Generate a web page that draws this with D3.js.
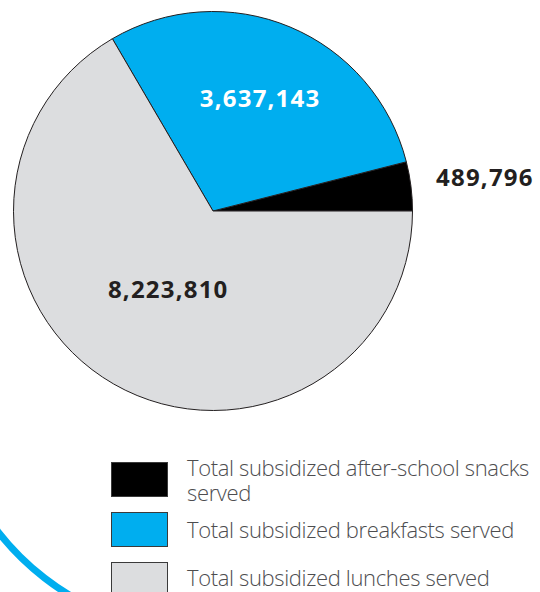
<!DOCTYPE html>
<html>
<head>
<meta charset="utf-8">
<script src="https://cdn.jsdelivr.net/npm/d3@7"></script>
<style>
  html, body { margin: 0; padding: 0; background: #fff; }
  svg { display: block; }
</style>
</head>
<body>
<svg id="chart" width="540" height="592"></svg>
<script>
// data
var categories = [
  "Total subsidized after-school snacks served",
  "Total subsidized breakfasts served",
  "Total subsidized lunches served"
];
var values = [489796, 3637143, 8223810];
var colors = ["#000000", "#00aeef", "#dcdddf"];

var width = 540, height = 592;
var cx = 213, cy = 211, radius = 199.5;

var svg = d3.select("#chart");

// decorative blue swoosh at the lower left
var swoosh = d3.arc()
  .innerRadius(262)
  .outerRadius(269)
  .startAngle(3.3)
  .endAngle(4.3);
svg.append("path")
  .attr("transform", "translate(207,368)")
  .attr("d", swoosh())
  .style("fill", "#00aeef");

// pie goes counter-clockwise from 3 o'clock
var pie = d3.pie()
  .sort(null)
  .startAngle(Math.PI / 2)
  .endAngle(Math.PI / 2 - 2 * Math.PI)
  .value(function(d) { return d; });

var arc = d3.arc().innerRadius(0).outerRadius(radius);
var arcs = pie(values);

var g = svg.append("g").attr("transform", "translate(" + cx + "," + cy + ")");

g.selectAll("path.slice")
  .data(arcs)
  .enter().append("path")
  .attr("class", "slice")
  .attr("d", arc)
  .style("fill", function(d, i) { return colors[i]; })
  .style("stroke", "#231f20")
  .style("stroke-width", 1);

// value labels
var labelRadius = [274, 122, 90];
var labelFill = ["#231f20", "#ffffff", "#231f20"];
var fmt = d3.format(",");

g.selectAll("text.val")
  .data(arcs)
  .enter().append("text")
  .attr("class", "val")
  .attr("transform", function(d, i) {
    var c = d3.arc().innerRadius(labelRadius[i]).outerRadius(labelRadius[i]).centroid(d);
    return "translate(" + c[0] + "," + c[1] + ")";
  })
  .attr("text-anchor", "middle")
  .attr("dy", "0.36em")
  .style("font-family", "'Open Sans', sans-serif")
  .style("font-weight", 700)
  .style("font-size", "24px")
  .style("letter-spacing", "1.2px")
  .style("fill", function(d, i) { return labelFill[i]; })
  .text(function(d) { return fmt(d.data); });

// legend
var legendLines = [
  ["Total subsidized after-school snacks", "served"],
  ["Total subsidized breakfasts served"],
  ["Total subsidized lunches served"]
];
var legendTop = [462, 512, 562];
var legendBaseline = [476, 538, 586];

var legend = svg.append("g").attr("class", "legend");

legend.selectAll("rect")
  .data(categories)
  .enter().append("rect")
  .attr("x", 111.5)
  .attr("y", function(d, i) { return legendTop[i] + 0.5; })
  .attr("width", 56)
  .attr("height", 34)
  .style("fill", function(d, i) { return colors[i]; })
  .style("stroke", "#3a3a3a")
  .style("stroke-width", 1);

var lt = legend.selectAll("text")
  .data(legendLines)
  .enter().append("text")
  .attr("x", 187)
  .attr("y", function(d, i) { return legendBaseline[i]; })
  .style("font-family", "'Open Sans', sans-serif")
  .style("font-weight", 300)
  .style("font-size", "22px")
  .style("letter-spacing", "-0.35px")
  .style("fill", "#4d4d4f");

lt.selectAll("tspan")
  .data(function(d) { return d; })
  .enter().append("tspan")
  .attr("x", 187)
  .attr("dy", function(d, j) { return j === 0 ? 0 : 25; })
  .text(function(d) { return d; });
</script>
</body>
</html>
